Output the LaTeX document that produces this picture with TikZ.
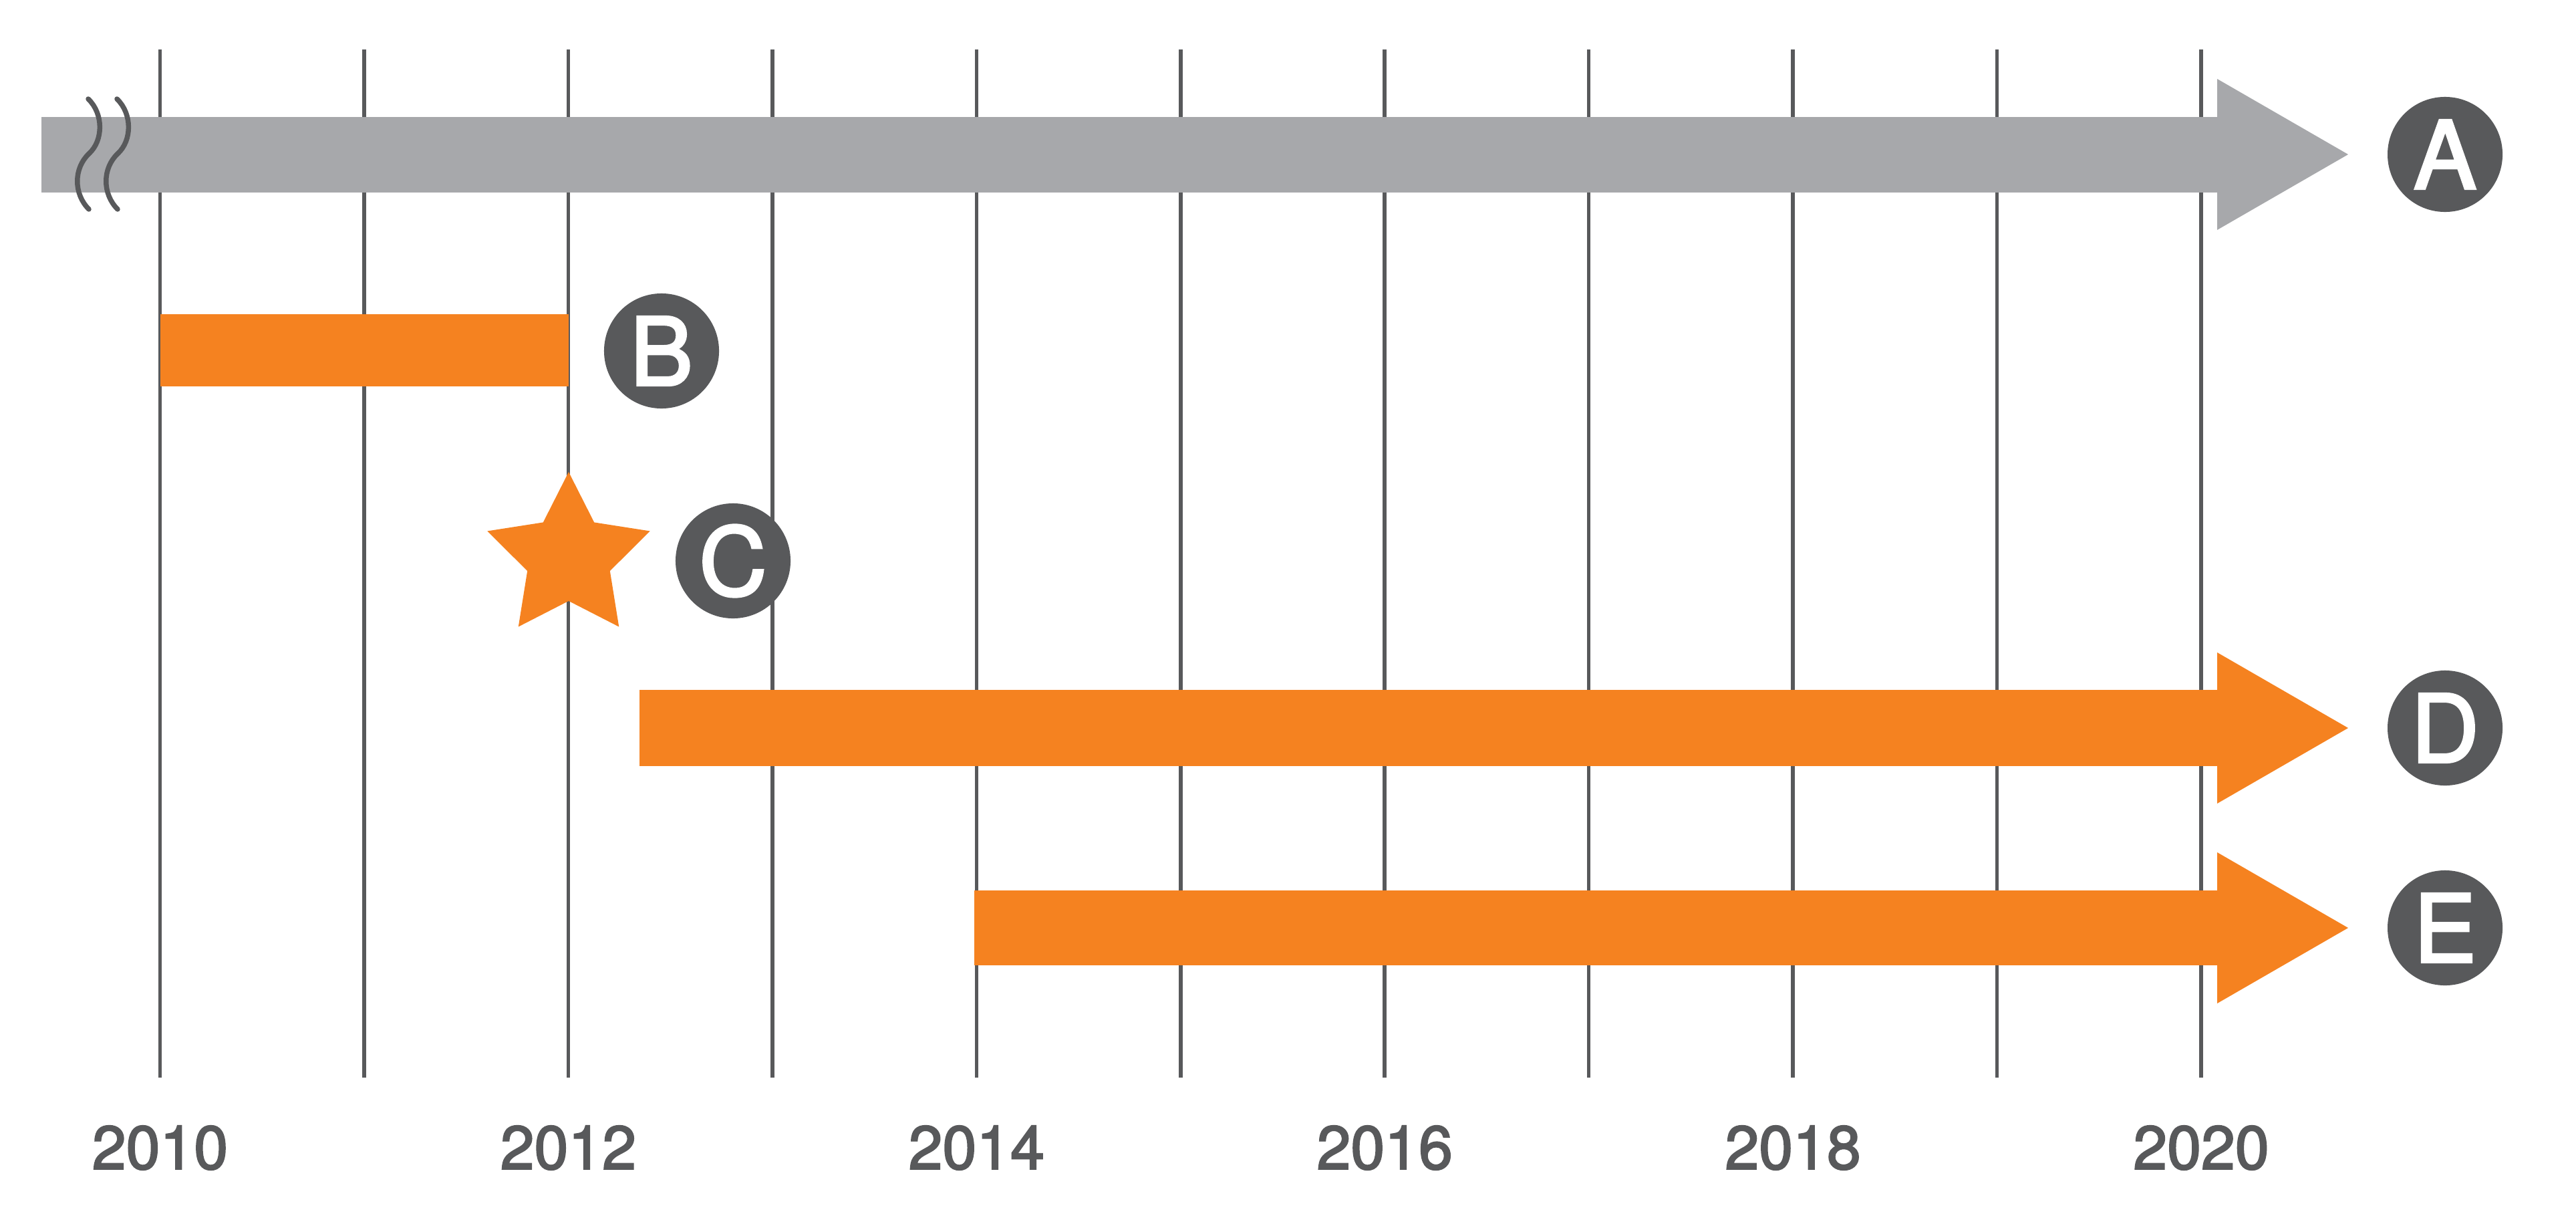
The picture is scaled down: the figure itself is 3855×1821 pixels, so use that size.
\documentclass[tikz,border=0pt]{standalone}
\usepackage{fontspec}
\setmainfont{TeX Gyre Heros}
\newfontfamily\medfont{TeX Gyre Heros}[FakeBold=2.6]
\newfontfamily\yearfont{TeX Gyre Heros}[FakeBold=2.4]
\definecolor{barGray}{HTML}{A7A8AB}
\definecolor{barOrange}{HTML}{F58220}
\definecolor{darkGray}{HTML}{58595B}
\begin{document}
\begin{tikzpicture}[x=0.01cm,y=-0.01cm,
  gridline/.style={draw=darkGray,line width=5.5*0.01cm},
  grayfill/.style={fill=barGray},
  orangefill/.style={fill=barOrange},
  badge/.style={circle,fill=darkGray,text=white,minimum size=1.72cm,inner sep=0pt,
    font=\medfont\fontsize{40}{48}\selectfont},
  yearlabel/.style={text=darkGray,inner sep=0pt,font=\yearfont\fontsize{26}{30}\selectfont},
  breakmark/.style={draw=darkGray,line width=7.5*0.01cm,line cap=round}]
\useasboundingbox (0,0) rectangle (3855,1821);
% grid lines
\foreach \i in {0,...,10}{
  \coordinate (gt\i) at ({239.5+305.45*\i},74);
  \coordinate (gb\i) at ({239.5+305.45*\i},1612);
  \draw[gridline] (gt\i) -- (gb\i);
}
% A: gray arrow
\fill[grayfill] (62,175) rectangle (3318,288);
\fill[grayfill] (3318,118) -- (3514,231) -- (3318,344) -- cycle;
\draw[breakmark] (132,148) .. controls (155,170) and (155,210) .. (133,230)
  .. controls (110,252) and (110,290) .. (133,313);
\draw[breakmark] (175,148) .. controls (198,170) and (198,210) .. (176,230)
  .. controls (153,252) and (153,290) .. (176,313);
\node[badge] (A) at (3659,231) {A};
% B: orange bar
\fill[orangefill] (239.5,470) rectangle (851,578);
\node[badge] (B) at (990,525) {B};
% C: star
\fill[orangefill] (851,706) \foreach \k in {1,...,9}{
  -- ({851+(mod(\k,2)==1 ? 65 : 128)*sin(36*\k)}, {834-(mod(\k,2)==1 ? 65 : 128)*cos(36*\k)})
  } -- cycle;
\node[badge] (C) at (1097,839) {C};
% D: orange arrow
\fill[orangefill] (957,1032) rectangle (3318,1146);
\fill[orangefill] (3318,976) -- (3514,1089) -- (3318,1202) -- cycle;
\node[badge] (D) at (3659,1089) {D};
% E: orange arrow
\fill[orangefill] (1458,1332) rectangle (3318,1444);
\fill[orangefill] (3318,1275) -- (3514,1388) -- (3318,1501) -- cycle;
\node[badge] (E) at (3659,1388) {E};
% year labels
\foreach \i/\yr in {0/2010,2/2012,4/2014,6/2016,8/2018,10/2020}{
  \node[yearlabel] (y\yr) at ({239.5+305.45*\i},1717) {\yr};
}
\end{tikzpicture}
\end{document}
